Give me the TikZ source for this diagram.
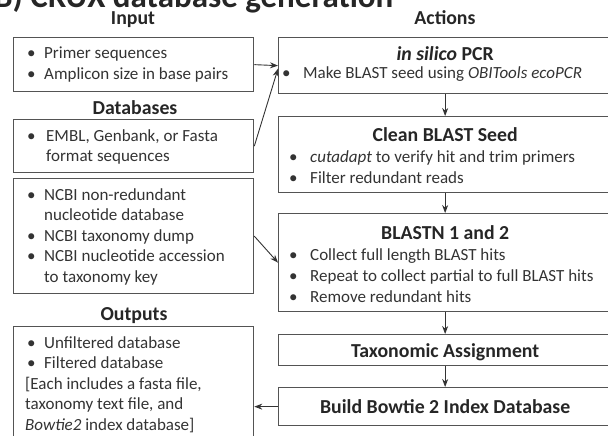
\documentclass[tikz,border=0pt]{standalone}
\usepackage{fontspec}
\setmainfont{Carlito}
\usetikzlibrary{arrows.meta}

\definecolor{boxgray}{gray}{0.33}
\definecolor{textgray}{gray}{0.2}

% bullet line and continuation line for the box texts
\newcommand\bl[2][14pt]{\makebox[#1][l]{\hspace*{-3pt}\textbullet}#2}
\newcommand\cont[2][14pt]{\hspace*{#1}#2}

\begin{document}
\begin{tikzpicture}[x=1pt,y=-1pt,
  box/.style={draw=boxgray, line width=1.3pt, anchor=north west, inner sep=0pt},
  body/.style={anchor=base west, inner sep=0pt, text=textgray,
    font=\fontsize{17}{20.6}\selectfont},
  rbody/.style={body, font=\fontsize{17}{21}\selectfont},
  head/.style={anchor=base, inner sep=0pt, text=black!85,
    font=\fontsize{19.8}{22}\selectfont\bfseries},
  link/.style={draw=black!80, line width=0.9pt, -{Stealth[length=8pt,width=6pt]}}]

\useasboundingbox (0,0) rectangle (608,436);

% panel title, cut by the page edge
\node[anchor=base west, inner sep=0pt, font=\fontsize{33}{33}\selectfont\bfseries, text=black!85]
  (title) at (-6,8) {B) CRUX database generation};

% column headings
\node[head] (hin)  at (133,25)  {Input};
\node[head] (hact) at (445,25)  {Actions};
\node[head] (hdb)  at (135,114) {Databases};
\node[head] (hout) at (134,320) {Outputs};

% ---------- left column ----------
\node[box, minimum width=240pt, minimum height=54pt]  (inp) at (13,37)  {};
\node[box, minimum width=240pt, minimum height=53pt]  (db1) at (13,119) {};
\node[box, minimum width=240pt, minimum height=115pt] (db2) at (13,178) {};
\node[box, minimum width=240pt, minimum height=130pt] (out) at (13,326) {};

\node[body] at ([shift={(17,22)}]inp.north west) {\parbox[t]{230pt}{%
  \bl{Primer sequences}\\
  \bl{Amplicon size in base pairs}}};

\node[body] at ([shift={(17,22)}]db1.north west) {\parbox[t]{230pt}{%
  \bl[16pt]{EMBL, Genbank, or Fasta}\\
  \cont[16pt]{format sequences}}};

\node[body] at ([shift={(17,22)}]db2.north west) {\parbox[t]{230pt}{%
  \bl{NCBI non-redundant}\\
  \cont{nucleotide database}\\
  \bl{NCBI taxonomy dump}\\
  \bl{NCBI nucleotide accession}\\
  \cont{to taxonomy key}}};

\node[body] at ([shift={(12,22)}]out.north west) {\parbox[t]{235pt}{%
  \hspace*{5pt}\bl{Unfiltered database}\\
  \hspace*{5pt}\bl{Filtered database}\\
  {[}Each includes a fasta file,\\
  taxonomy text file, and\\
  \textit{Bowtie2} index database{]}}};

% ---------- right column ----------
\node[box, minimum width=333pt, minimum height=56pt] (pcr)   at (278,37)  {};
\node[box, minimum width=333pt, minimum height=76pt] (clean) at (278,116) {};
\node[box, minimum width=333pt, minimum height=98pt] (blast) at (278,213) {};
\node[box, minimum width=333pt, minimum height=31pt] (tax)   at (278,334) {};
\node[box, minimum width=333pt, minimum height=38pt] (build) at (278,387) {};

\node[head] at ([shift={(0,24)}]pcr.north)   {\textit{in silico} PCR};
\node[head] at ([shift={(0,25)}]clean.north) {Clean BLAST Seed};
\node[head] at ([shift={(0,26)}]blast.north) {BLASTN 1 and 2};
\node[head] at ([shift={(0,23)}]tax.north)   {Taxonomic Assignment};
\node[head] at ([shift={(0,26)}]build.north) {Build Bowtie 2 Index Database};

\node[rbody] at ([shift={(7,41)}]pcr.north west) {\parbox[t]{325pt}{%
  \bl[18pt]{Make BLAST seed using \textit{OBITools ecoPCR}}}};

\node[rbody] at ([shift={(14,46)}]clean.north west) {\parbox[t]{325pt}{%
  \bl[18pt]{\textit{cutadapt} to verify hit and trim primers}\\
  \bl[18pt]{Filter redundant reads}}};

\node[rbody] at ([shift={(14,47)}]blast.north west) {\parbox[t]{325pt}{%
  \bl[18pt]{Collect full length BLAST hits}\\
  \bl[18pt]{Repeat to collect partial to full BLAST hits}\\
  \bl[18pt]{Remove redundant hits}}};

% ---------- connectors ----------
\draw[link] (inp.east) -- (pcr.west);
\draw[link] (db1.east) -- ([yshift=-3pt]pcr.west);
\draw[link] (db2.east) -- (blast.west);
\draw[link] (pcr.south)   -- (clean.north);
\draw[link] (clean.south) -- (blast.north);
\draw[link] (blast.south) -- (tax.north);
\draw[link] (tax.south)   -- (build.north);
\draw[link] (build.west)  -- (build.west -| out.east);

\end{tikzpicture}
\end{document}
